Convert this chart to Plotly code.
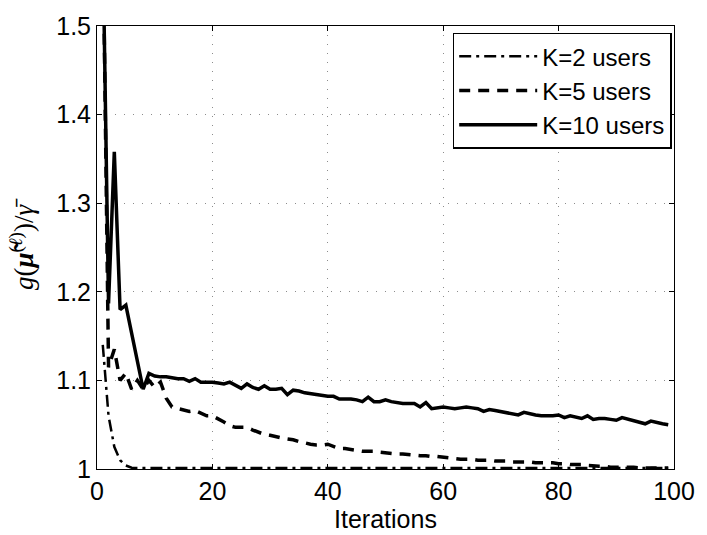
import plotly.graph_objects as go

iterations = list(range(1, 100))

k2_users = [1.14, 1.06, 1.025, 1.010, 1.004, 1.0015] + [1.001] * 93

k5_users = [
    1.62, 1.115, 1.135, 1.100, 1.108, 1.090, 1.100, 1.090, 1.100, 1.092,
    1.098, 1.080, 1.070, 1.068, 1.066, 1.065, 1.066, 1.063, 1.060, 1.060,
    1.057, 1.053, 1.049, 1.047, 1.047, 1.047, 1.044, 1.041, 1.039, 1.038,
    1.036, 1.035, 1.034, 1.033, 1.031, 1.029, 1.028, 1.027, 1.027, 1.028,
    1.025, 1.023, 1.023, 1.022, 1.021, 1.020, 1.020, 1.020, 1.019, 1.018,
    1.018, 1.017, 1.017, 1.016, 1.016, 1.015, 1.015, 1.014, 1.014, 1.013,
    1.012, 1.012, 1.011, 1.011, 1.011, 1.010, 1.010, 1.010, 1.009, 1.009,
    1.009, 1.008, 1.008, 1.008, 1.008, 1.007, 1.007, 1.007, 1.007, 1.006,
    1.006, 1.005, 1.005, 1.005, 1.004, 1.003, 1.003, 1.003, 1.002, 1.002,
    1.002, 1.002, 1.002, 1.001, 1.001, 1.001, 1.001, 1.001, 1.001,
]

k10_users = [
    1.60, 1.187, 1.358, 1.180, 1.185, 1.152, 1.120, 1.090, 1.108, 1.105,
    1.104, 1.104, 1.103, 1.102, 1.102, 1.099, 1.102, 1.098, 1.098, 1.098,
    1.097, 1.096, 1.098, 1.095, 1.091, 1.096, 1.092, 1.090, 1.094, 1.090,
    1.090, 1.091, 1.084, 1.089, 1.088, 1.086, 1.085, 1.084, 1.083, 1.082,
    1.082, 1.079, 1.079, 1.079, 1.078, 1.076, 1.081, 1.076, 1.076, 1.078,
    1.076, 1.075, 1.074, 1.074, 1.074, 1.070, 1.075, 1.068, 1.069, 1.070,
    1.069, 1.068, 1.069, 1.070, 1.069, 1.068, 1.065, 1.067, 1.066, 1.065,
    1.064, 1.063, 1.061, 1.064, 1.062, 1.061, 1.060, 1.060, 1.060, 1.061,
    1.058, 1.060, 1.058, 1.057, 1.060, 1.056, 1.057, 1.057, 1.056, 1.055,
    1.058, 1.056, 1.055, 1.053, 1.051, 1.054, 1.052, 1.051, 1.050,
]

x_ticks = [0, 20, 40, 60, 80, 100]
y_ticks = [1, 1.1, 1.2, 1.3, 1.4, 1.5]
y_tick_labels = ["1", "1.1", "1.2", "1.3", "1.4", "1.5"]

fig = go.Figure()
fig.add_trace(go.Scatter(x=iterations, y=k2_users, mode="lines", name="K=2 users",
                         line=dict(color="black", width=2.5, dash="12px,5px,3px,5px")))
fig.add_trace(go.Scatter(x=iterations, y=k5_users, mode="lines", name="K=5 users",
                         line=dict(color="black", width=3.5, dash="11px,8px")))
fig.add_trace(go.Scatter(x=iterations, y=k10_users, mode="lines", name="K=10 users",
                         line=dict(color="black", width=3.5)))

axis_common = dict(
    showline=True, linecolor="black", linewidth=1, mirror="allticks",
    ticks="inside", ticklen=5, tickcolor="black", tickwidth=1,
    showgrid=True, gridcolor="#8c8c8c", gridwidth=1, griddash="1px,8px",
    zeroline=False,
    tickfont=dict(family="Liberation Sans, Arial", size=25, color="black"),
)

fig.update_layout(
    width=707, height=535,
    margin=dict(l=97, r=24, t=23, b=64),
    paper_bgcolor="white", plot_bgcolor="white",
    font=dict(family="Liberation Sans, Arial", color="black"),
    xaxis=dict(range=[0, 100], tickvals=x_ticks, ticktext=[str(v) for v in x_ticks],
               title=dict(text="Iterations", standoff=0,
                          font=dict(family="Liberation Sans, Arial", size=25)),
               **axis_common),
    yaxis=dict(range=[1, 1.5], tickvals=y_ticks, ticktext=y_tick_labels,
               title=dict(text="<i>g</i>(<b><i>μ̃</i></b><sup>(<i>ℓ</i>)</sup>)/<i>γ̄</i>",
                          standoff=14,
                          font=dict(family="Liberation Serif, DejaVu Serif", size=27)),
               **axis_common),
    showlegend=True,
    legend=dict(x=0.996, y=0.985, xanchor="right", yanchor="top",
                bordercolor="black", borderwidth=1.5, bgcolor="white",
                font=dict(family="Liberation Sans, Arial", size=24, color="black"),
                itemwidth=78, tracegroupgap=0),
)

fig.write_html("out.html")
